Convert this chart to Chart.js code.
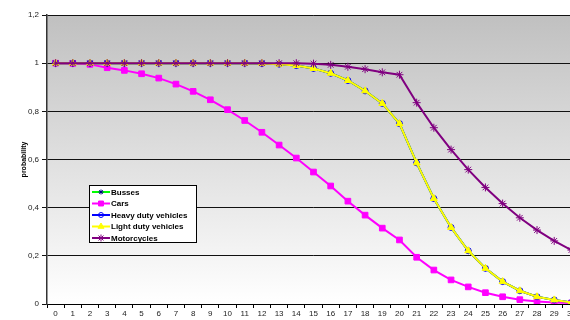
<!DOCTYPE html>
<html>
<head>
<meta charset="utf-8">
<script src="https://cdn.jsdelivr.net/npm/chart.js@4/dist/chart.umd.min.js"></script>
<style>
  html, body { margin: 0; padding: 0; overflow: hidden; background: #fff; }
  #wrap { width: 590px; height: 320px; position: relative; }
</style>
</head>
<body>
<div id="wrap"><canvas id="grafica"></canvas></div>
<script>
// DATOS
const labels = [];
for (let i = 0; i <= 30; i++) labels.push(String(i));

const busses = [1, 1, 1, 1, 1, 1, 1, 1, 1, 1, 1, 1, 0.999, 0.996, 0.99, 0.978, 0.958, 0.928, 0.885, 0.833, 0.749, 0.586, 0.438, 0.318, 0.221, 0.148, 0.093, 0.055, 0.03, 0.017, 0.006];
const cars = [1, 0.999, 0.995, 0.981, 0.97, 0.956, 0.938, 0.913, 0.883, 0.848, 0.807, 0.762, 0.713, 0.66, 0.606, 0.548, 0.49, 0.427, 0.369, 0.315, 0.266, 0.194, 0.141, 0.1, 0.071, 0.047, 0.03, 0.018, 0.01, 0.006, 0.004];
const heavyDuty = [1, 1, 1, 1, 1, 1, 1, 1, 1, 1, 1, 1, 0.999, 0.996, 0.99, 0.978, 0.958, 0.928, 0.885, 0.833, 0.749, 0.586, 0.438, 0.318, 0.221, 0.148, 0.093, 0.055, 0.03, 0.017, 0.006];
const lightDuty = [1, 1, 1, 1, 1, 1, 1, 1, 1, 1, 1, 1, 0.999, 0.996, 0.99, 0.978, 0.958, 0.928, 0.885, 0.833, 0.749, 0.586, 0.438, 0.318, 0.221, 0.148, 0.093, 0.055, 0.03, 0.017, 0.006];
const motorcycles = [1, 1, 1, 1, 1, 1, 1, 1, 1, 1, 1, 1, 1, 1, 1, 0.998, 0.993, 0.985, 0.975, 0.962, 0.952, 0.836, 0.732, 0.641, 0.558, 0.484, 0.417, 0.358, 0.307, 0.262, 0.224];

const series = [
  { label: "Busses", data: busses, color: "#00ff00", style: "star", radius: 3, mark: "#000080", fill: "#000080", order: 4 },
  { label: "Cars", data: cars, color: "#ff00ff", style: "rect", radius: 4, mark: "#ff00ff", fill: "#ff00ff", order: 3 },
  { label: "Heavy duty vehicles", data: heavyDuty, color: "#0000ff", style: "circle", radius: 3, mark: "#0000ff", fill: "rgba(0,0,0,0)", order: 2 },
  { label: "Light duty vehicles", data: lightDuty, color: "#ffff00", style: "triangle", radius: 4, mark: "#ffff00", fill: "#ffff00", order: 1 },
  { label: "Motorcycles", data: motorcycles, color: "#800080", style: "star", radius: 4, mark: "#800080", fill: "#800080", order: 0 }
];

// FONDO DEGRADADO
const fondo = {
  id: "fondo",
  beforeDraw(chart) {
    const { ctx, chartArea: a } = chart;
    const g = ctx.createLinearGradient(0, a.top, 0, a.bottom);
    g.addColorStop(0, "#c0c0c0");
    g.addColorStop(1, "#ffffff");
    ctx.save();
    ctx.fillStyle = g;
    ctx.fillRect(a.left, a.top, a.right - a.left, a.bottom - a.top);
    ctx.restore();
  }
};

// LEYENDA
const leyenda = {
  id: "leyenda",
  afterDraw(chart) {
    const ctx = chart.ctx;
    ctx.save();
    ctx.fillStyle = "#fff";
    ctx.fillRect(89.5, 185.5, 107, 57);
    ctx.strokeStyle = "#000";
    ctx.lineWidth = 1;
    ctx.strokeRect(89.5, 185.5, 107, 57);
    series.forEach((s, i) => {
      const y = 192 + i * 11.5;
      ctx.strokeStyle = s.color;
      ctx.lineWidth = 2;
      ctx.beginPath();
      ctx.moveTo(92, y);
      ctx.lineTo(110, y);
      ctx.stroke();
      ctx.strokeStyle = s.mark;
      ctx.fillStyle = s.fill;
      ctx.lineWidth = 1;
      Chart.helpers.drawPoint(ctx, { pointStyle: s.style, radius: s.radius - 0.5, rotation: 0, borderWidth: 1 }, 101, y);
      ctx.fillStyle = "#000";
      ctx.font = "bold 8px Arial, 'Liberation Sans'";
      ctx.textBaseline = "middle";
      ctx.fillText(s.label, 111, y + 0.5);
    });
    ctx.restore();
  }
};

new Chart(document.getElementById("grafica"), {
  type: "line",
  data: {
    labels: labels,
    datasets: series.map(s => ({
      label: s.label,
      data: s.data,
      order: s.order,
      borderColor: s.color,
      borderWidth: 2,
      tension: 0,
      pointStyle: s.style,
      pointRadius: s.radius,
      pointBorderColor: s.mark,
      pointBackgroundColor: s.fill,
      pointBorderWidth: 1
    }))
  },
  options: {
    responsive: true,
    maintainAspectRatio: false,
    animation: false,
    layout: { padding: { left: 16, top: 15, right: 10, bottom: 0 } },
    plugins: { legend: { display: false }, tooltip: { enabled: false } },
    scales: {
      x: {
        offset: true,
        grid: { offset: true, drawOnChartArea: false, drawTicks: true, tickLength: 4, color: "#000" },
        border: { color: "#000", width: 1 },
        ticks: { autoSkip: false, maxRotation: 0, padding: 1, color: "#222", font: { family: "Arial, 'Liberation Sans'", size: 8 } },
        afterFit(scale) { scale.height = 16; }
      },
      y: {
        min: 0,
        max: 1.2,
        grid: { color: "#111", lineWidth: 1, tickLength: 5 },
        border: { color: "#333", width: 1.5 },
        ticks: {
          stepSize: 0.2,
          padding: 3,
          color: "#222",
          font: { family: "Arial, 'Liberation Sans'", size: 8 },
          callback: v => String(Math.round(v * 10) / 10).replace(".", ",")
        },
        title: { display: true, text: "probability", color: "#000", font: { family: "Arial, 'Liberation Sans'", size: 7, weight: "bold" } },
        afterFit(scale) { scale.width = 31; }
      }
    }
  },
  plugins: [fondo, leyenda]
});
</script>
</body>
</html>
